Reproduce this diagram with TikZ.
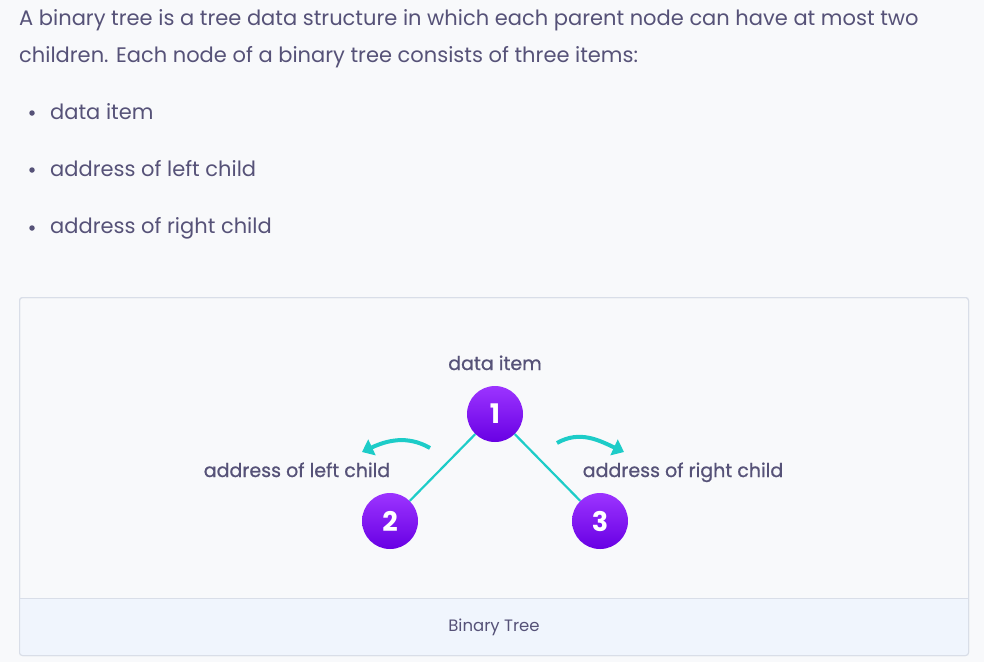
\documentclass[tikz,border=0pt]{standalone}
\usepackage{fontspec}
\setmainfont{Poppins}
\newfontfamily\pmed[FakeBold=0.8]{Poppins}
\usetikzlibrary{arrows.meta}
\definecolor{bgc}{RGB}{248,249,251}
\definecolor{txt}{RGB}{86,82,120}
\definecolor{teal}{RGB}{29,204,200}
\definecolor{ptop}{RGB}{156,52,255}
\definecolor{pbot}{RGB}{104,0,228}
\definecolor{bord}{RGB}{217,222,232}
\definecolor{capf}{RGB}{240,245,253}
\tikzset{
  para/.style={anchor=base west, inner sep=0pt, text=txt, font=\fontsize{21}{24}\selectfont},
  lbl/.style={anchor=base, inner sep=0pt, text=txt, font=\fontsize{19}{22}\selectfont\pmed},
  tnode/.style={circle, inner sep=0pt, minimum size=56pt, top color=ptop, bottom color=pbot, text=white, font=\fontsize{27}{28}\selectfont\bfseries},
  edge/.style={draw=teal, line width=2.2pt},
  carrow/.style={draw=teal, line width=4pt, -{Triangle[length=11pt,width=17pt]}},
  bul/.style={circle, fill=txt, inner sep=0pt, minimum size=5.5pt}
}
\begin{document}
\begin{tikzpicture}[x=1pt,y=-1pt]
\fill[bgc] (0,0) rectangle (984,662);
\useasboundingbox (0,0) rectangle (984,662);
% paragraph
\node[para] (p1) at (19,25) {A binary tree is a tree data structure in which each parent node can have at most two};
\node[para] (p2) at (19,62) {children. Each node of a binary tree consists of three items:};
\node[bul] (b1) at (32,113) {};
\node[bul] (b2) at (32,170) {};
\node[bul] (b3) at (32,228) {};
\node[para] (i1) at (50,119) {data item};
\node[para] (i2) at (50,176) {address of left child};
\node[para] (i3) at (50,233) {address of right child};
% box
\draw[bord, fill=bgc, rounded corners=3pt, line width=1pt] (19.5,297.5) rectangle (968.5,655.5);
\begin{scope}
\clip[rounded corners=3pt] (19.5,297.5) rectangle (968.5,655.5);
\fill[capf] (19.5,598.5) rectangle (968.5,655.5);
\end{scope}
\draw[bord, line width=1pt, rounded corners=3pt] (19.5,297.5) rectangle (968.5,655.5);
\draw[bord, line width=1pt] (19.5,598.5) -- (968.5,598.5);
\node[inner sep=0pt, text=txt, font=\fontsize{16.5}{18}\selectfont] (cap) at (494,627) {Binary Tree};
% tree
\node[tnode] (n1) at (495,414) {1};
\node[tnode] (n2) at (390,521) {2};
\node[tnode] (n3) at (600,521) {3};
\draw[edge] (n1) -- (n2);
\draw[edge] (n1) -- (n3);
\node[lbl] (ld) at (495,370) {data item};
\node[lbl] (ll) at (297,477) {address of left child};
\node[lbl] (lr) at (683,477) {address of right child};
\coordinate (la) at (430,448);
\coordinate (lb) at (362,452);
\coordinate (ra) at (557,443);
\coordinate (rb) at (624,452);
\draw[carrow] (la) to[out=150, in=25] (lb);
\draw[carrow] (ra) to[out=30, in=155] (rb);
\end{tikzpicture}
\end{document}
